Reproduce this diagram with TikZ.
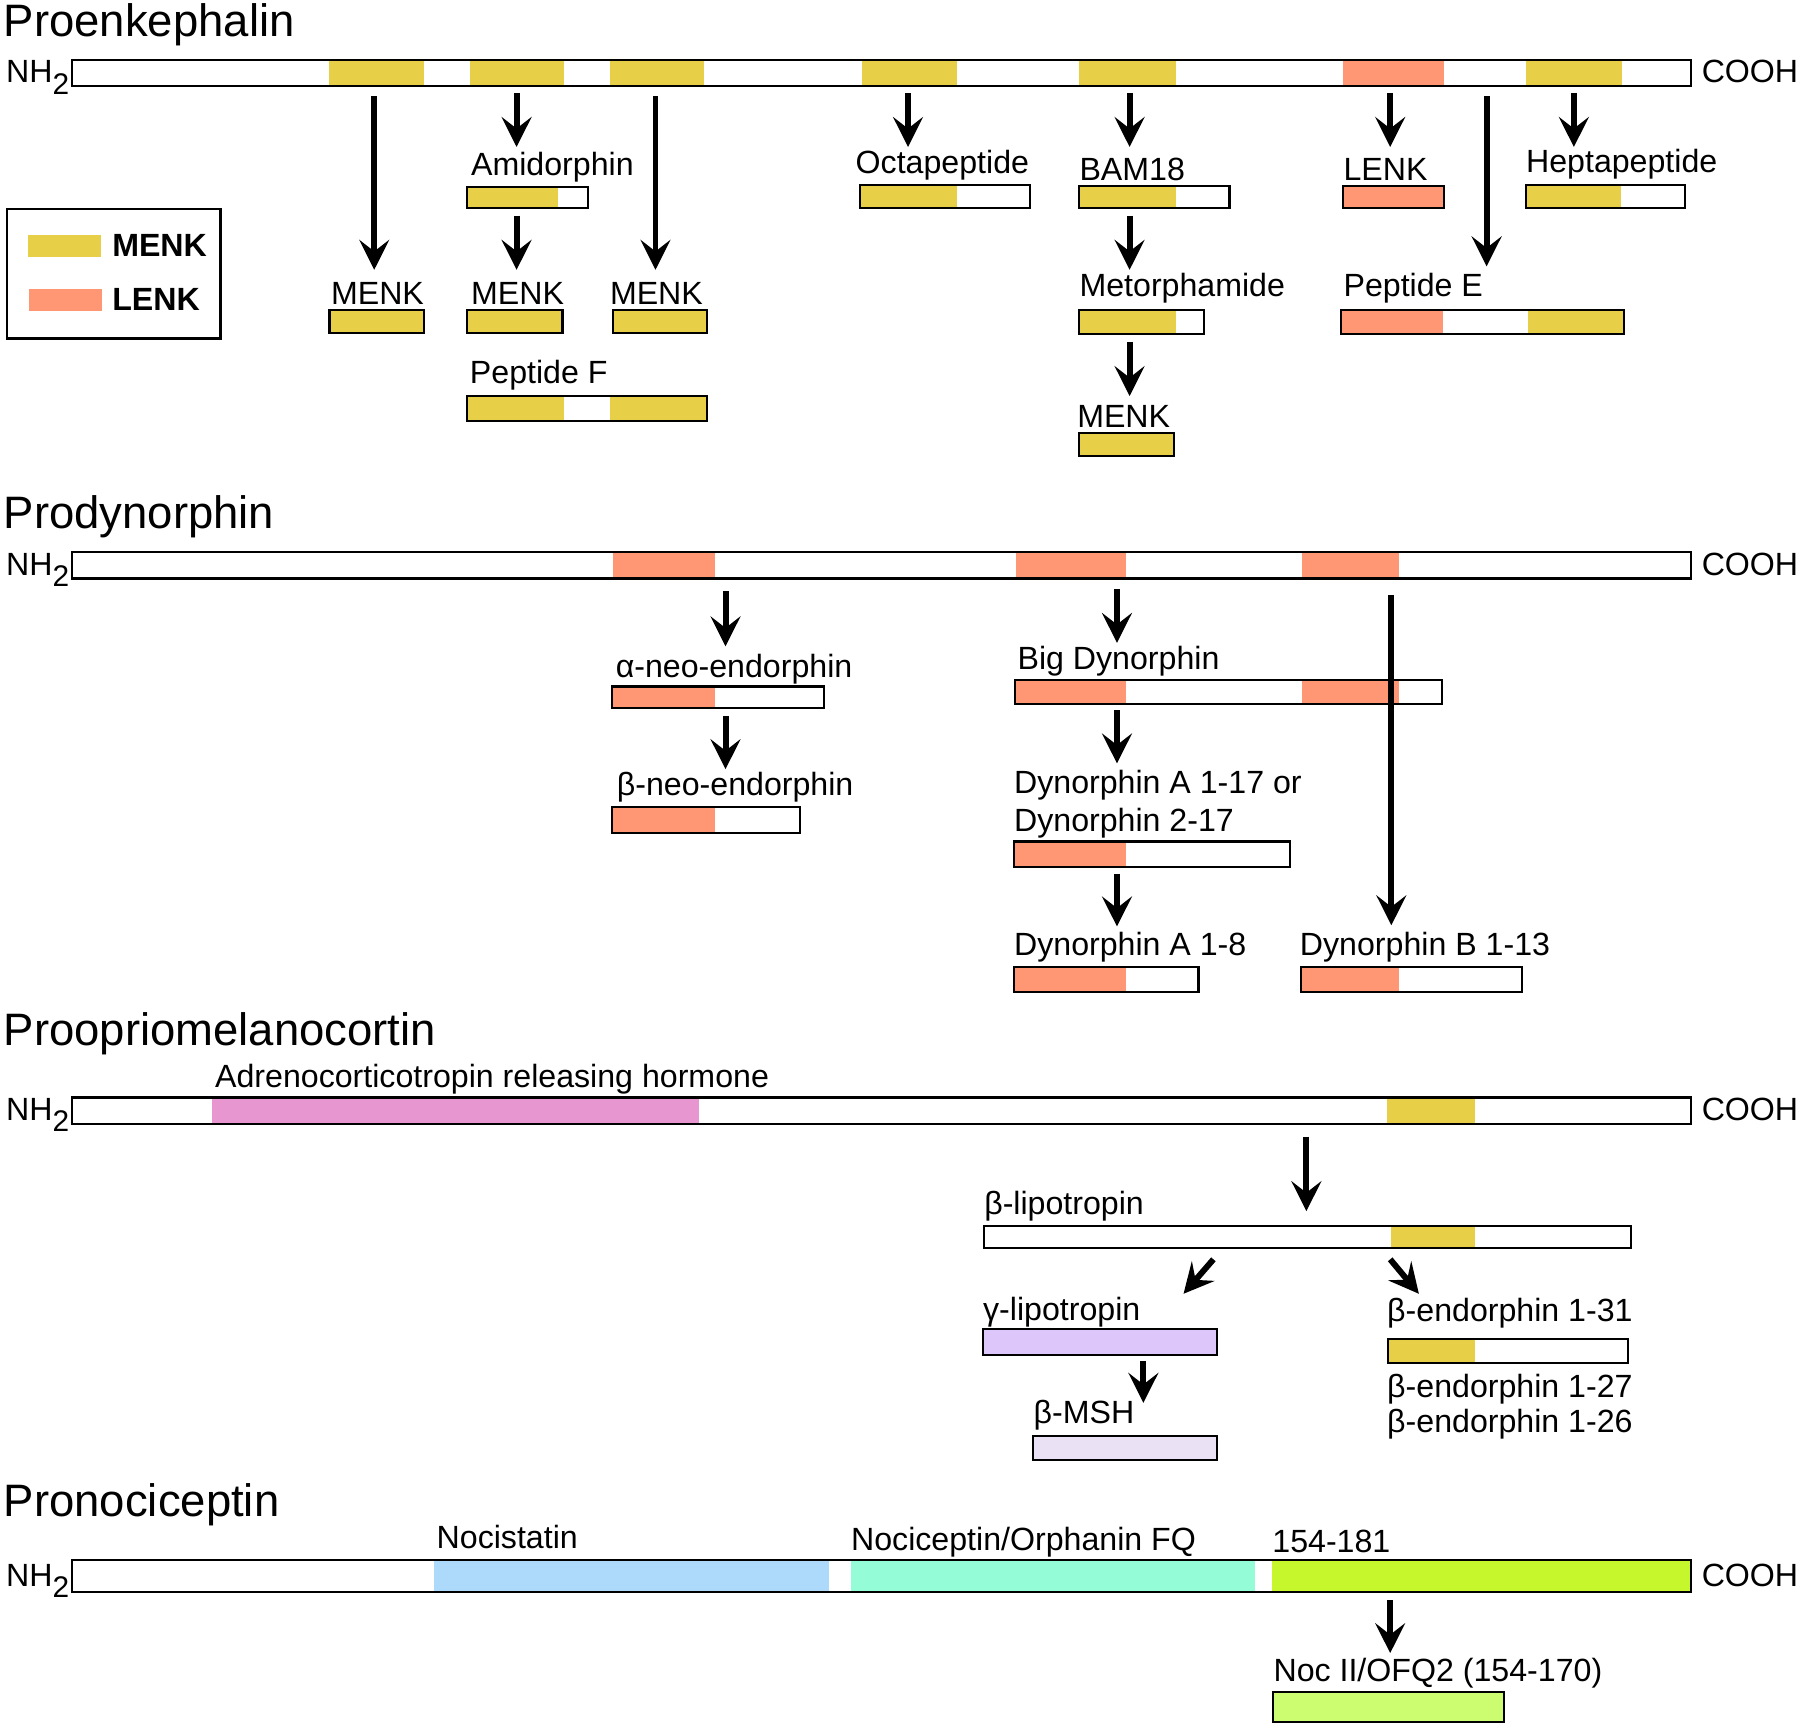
\documentclass[tikz,border=0pt]{standalone}
\usepackage{fontspec}
\setmainfont{Liberation Sans}
\usetikzlibrary{arrows.meta, calc, fit, positioning}

\definecolor{menk}{HTML}{E8CF48}
\definecolor{lenk}{HTML}{FF9775}
\definecolor{acth}{HTML}{E896D0}
\definecolor{glph}{HTML}{DCC6FA}
\definecolor{bmsh}{HTML}{EAE2F4}
\definecolor{nocst}{HTML}{ADDAFA}
\definecolor{nocfq}{HTML}{94FCD6}
\definecolor{nlime}{HTML}{C6F72D}
\definecolor{nlite}{HTML}{CCFC70}

\newcommand{\subtwo}{\raisebox{-5pt}{\fontsize{13}{13}\selectfont 2}}

\tikzset{
    bar/.style={draw, line width=1pt, inner sep=0pt},
    pep/.style={draw, line width=0.9pt, inner sep=0pt},
    lab/.style={anchor=base west, inner sep=0pt, font=\fontsize{14}{16}\selectfont},
    hdr/.style={anchor=base west, inner sep=0pt, font=\fontsize{19.8}{22}\selectfont},
    swatch/.style={minimum width=32pt, minimum height=9.5pt, inner sep=0pt},
    legtxt/.style={anchor=west, inner sep=0pt, font=\fontsize{14}{16}\selectfont\bfseries},
    cleave/.style={line width=2.6pt, -{Stealth[length=13pt, width=13pt, inset=5pt]}}
}

\begin{document}
\begin{tikzpicture}[x=0.5pt, y=-0.5pt]
    \useasboundingbox (0,0) rectangle (1568,1506);

    % Proenkephalin
    \node[hdr] (t-penk) at (3,32) {Proenkephalin};
    \fill[menk] (287,52) rectangle (369,75);
    \fill[menk] (409,52) rectangle (491,75);
    \fill[menk] (531,52) rectangle (613,75);
    \fill[menk] (751,52) rectangle (834,75);
    \fill[menk] (940,52) rectangle (1024,75);
    \fill[lenk] (1170,52) rectangle (1258,75);
    \fill[menk] (1329,52) rectangle (1413,75);
    \node[bar, fit={(63,52) (1473,75)}] (penk) {};
    \node[lab] (penk-n) at (5,72) {NH\subtwo};
    \node[lab] (penk-c) at (1482,72) {COOH};

    % legend
    \node[draw, line width=1.1pt, fit={(6,182) (192,295)}, inner sep=0pt] (legend) {};
    \node[swatch, fill=menk] (sw-menk) at (56,214) {};
    \node[legtxt, right=4.5pt of sw-menk] (lg-menk) {MENK};
    \node[swatch, fill=lenk] (sw-lenk) at (57,261) {};
    \node[legtxt, right=4pt of sw-lenk] (lg-lenk) {LENK};

    % products
    \fill[menk] (287,270) rectangle (369,290);
    \node[pep, fit={(287,270) (369,290)}] (menk1) {};
    \node[lab] (l-menk1) at (288,265) {MENK};

    \fill[menk] (407,163) rectangle (486,181);
    \node[pep, fit={(407,163) (512,181)}] (amid) {};
    \node[lab] (l-amid) at (410,153) {Amidorphin};

    \fill[menk] (407,270) rectangle (490,290);
    \node[pep, fit={(407,270) (490,290)}] (menk2) {};
    \node[lab] (l-menk2) at (410,265) {MENK};

    \fill[menk] (534,270) rectangle (616,290);
    \node[pep, fit={(534,270) (616,290)}] (menk3) {};
    \node[lab] (l-menk3) at (531,265) {MENK};

    \fill[menk] (407,345) rectangle (491,367);
    \fill[menk] (531,345) rectangle (616,367);
    \node[pep, fit={(407,345) (616,367)}] (peptf) {};
    \node[lab] (l-peptf) at (409,334) {Peptide F};

    \fill[menk] (749,161) rectangle (834,181);
    \node[pep, fit={(749,161) (897,181)}] (octa) {};
    \node[lab] (l-octa) at (745,151) {Octapeptide};

    \fill[menk] (940,162) rectangle (1024,181);
    \node[pep, fit={(940,162) (1071,181)}] (bam) {};
    \node[lab] (l-bam) at (940,157) {BAM18};

    \fill[menk] (940,270) rectangle (1024,291);
    \node[pep, fit={(940,270) (1049,291)}] (metor) {};
    \node[lab] (l-metor) at (940,258) {Metorphamide};

    \fill[menk] (940,377) rectangle (1023,397);
    \node[pep, fit={(940,377) (1023,397)}] (menk4) {};
    \node[lab] (l-menk4) at (938,372) {MENK};

    \fill[lenk] (1170,162) rectangle (1258,181);
    \node[pep, fit={(1170,162) (1258,181)}] (lenk1) {};
    \node[lab] (l-lenk1) at (1170,157) {LENK};

    \fill[lenk] (1168,270) rectangle (1257,291);
    \fill[menk] (1331,270) rectangle (1415,291);
    \node[pep, fit={(1168,270) (1415,291)}] (pepte) {};
    \node[lab] (l-pepte) at (1170,258) {Peptide E};

    \fill[menk] (1329,161) rectangle (1412,181);
    \node[pep, fit={(1329,161) (1468,181)}] (hepta) {};
    \node[lab] (l-hepta) at (1329,150) {Heptapeptide};

    % cleavage arrows
    \coordinate (k-menk1) at (326,235);
    \coordinate (k-amid)  at (450,128);
    \coordinate (k-menk2) at (450,235);
    \coordinate (k-menk3) at (571,235);
    \coordinate (k-octa)  at (791,128);
    \coordinate (k-bam)   at (984,128);
    \coordinate (k-metor) at (984,235);
    \coordinate (k-menk4) at (984,345);
    \coordinate (k-lenk1) at (1211,128);
    \coordinate (k-pepte) at (1295,232);
    \coordinate (k-hepta) at (1371,128);
    \draw[cleave] ($(penk.south -| k-menk1)+(0,8)$) -- (k-menk1);
    \draw[cleave] ($(penk.south -| k-amid)+(0,5)$) -- (k-amid);
    \draw[cleave] ($(amid.south -| k-menk2)+(0,6)$) -- (k-menk2);
    \draw[cleave] ($(penk.south -| k-menk3)+(0,8)$) -- (k-menk3);
    \draw[cleave] ($(penk.south -| k-octa)+(0,5)$) -- (k-octa);
    \draw[cleave] ($(penk.south -| k-bam)+(0,5)$) -- (k-bam);
    \draw[cleave] ($(bam.south -| k-metor)+(0,6)$) -- (k-metor);
    \draw[cleave] ($(metor.south -| k-menk4)+(0,6)$) -- (k-menk4);
    \draw[cleave] ($(penk.south -| k-lenk1)+(0,5)$) -- (k-lenk1);
    \draw[cleave] ($(penk.south -| k-pepte)+(0,8)$) -- (k-pepte);
    \draw[cleave] ($(penk.south -| k-hepta)+(0,5)$) -- (k-hepta);

    % Prodynorphin
    \node[hdr] (t-pdyn) at (3,460) {Prodynorphin};
    \fill[lenk] (534,481) rectangle (623,504);
    \fill[lenk] (885,481) rectangle (981,504);
    \fill[lenk] (1134,481) rectangle (1219,504);
    \node[bar, fit={(63,481) (1473,504)}] (pdyn) {};
    \node[lab] (pdyn-n) at (5,501) {NH\subtwo};
    \node[lab] (pdyn-c) at (1482,501) {COOH};

    \fill[lenk] (533,598) rectangle (623,617);
    \node[pep, fit={(533,598) (718,617)}] (aneo) {};
    \node[lab] (l-aneo) at (536,590) {α-neo-endorphin};

    \fill[lenk] (533,703) rectangle (623,726);
    \node[pep, fit={(533,703) (697,726)}] (bneo) {};
    \node[lab] (l-bneo) at (537,693) {β-neo-endorphin};

    \fill[lenk] (884,592) rectangle (981,613);
    \fill[lenk] (1134,592) rectangle (1219,613);
    \node[pep, fit={(884,592) (1256,613)}] (bigdyn) {};
    \node[lab] (l-bigdyn) at (886,583) {Big Dynorphin};

    \fill[lenk] (883,733) rectangle (981,755);
    \node[pep, fit={(883,733) (1124,755)}] (dyna17) {};
    \node[lab] (l-dyna17) at (883,691) {Dynorphin A 1-17 or};
    \node[lab] (l-dyn217) at (883,724) {Dynorphin 2-17};

    \fill[lenk] (883,842) rectangle (981,864);
    \node[pep, fit={(883,842) (1044,864)}] (dyna8) {};
    \node[lab] (l-dyna8) at (883,832) {Dynorphin A 1-8};

    \fill[lenk] (1133,842) rectangle (1219,864);
    \node[pep, fit={(1133,842) (1326,864)}] (dynb) {};
    \node[lab] (l-dynb) at (1132,832) {Dynorphin B 1-13};

    \coordinate (k-aneo)   at (632,563);
    \coordinate (k-bneo)   at (632,670);
    \coordinate (k-bigdyn) at (973,560);
    \coordinate (k-dyna17) at (973,665);
    \coordinate (k-dyna8)  at (973,807);
    \coordinate (k-dynb)   at (1212,806);
    \draw[cleave] ($(pdyn.south -| k-aneo)+(0,10)$) -- (k-aneo);
    \draw[cleave] ($(aneo.south -| k-bneo)+(0,6)$) -- (k-bneo);
    \draw[cleave] ($(pdyn.south -| k-bigdyn)+(0,8)$) -- (k-bigdyn);
    \draw[cleave] ($(bigdyn.south -| k-dyna17)+(0,5)$) -- (k-dyna17);
    \draw[cleave] ($(dyna17.south -| k-dyna8)+(0,5)$) -- (k-dyna8);
    \draw[cleave] ($(pdyn.south -| k-dynb)+(0,13)$) -- (k-dynb);

    % Proopriomelanocortin
    \node[hdr] (t-pomc) at (3,911) {Proopriomelanocortin};
    \node[lab] (l-acth) at (187,947) {Adrenocorticotropin releasing hormone};
    \fill[acth] (185,956) rectangle (609,979);
    \fill[menk] (1208,956) rectangle (1285,979);
    \node[bar, fit={(63,956) (1473,979)}] (pomc) {};
    \node[lab] (pomc-n) at (5,976) {NH\subtwo};
    \node[lab] (pomc-c) at (1482,976) {COOH};

    \fill[menk] (1212,1068) rectangle (1285,1087);
    \node[pep, fit={(857,1068) (1421,1087)}] (blph) {};
    \node[lab] (l-blph) at (857,1058) {β-lipotropin};

    \fill[glph] (856,1158) rectangle (1060,1180);
    \node[pep, fit={(856,1158) (1060,1180)}] (glph) {};
    \node[lab] (l-glph) at (856,1150) {γ-lipotropin};

    \fill[bmsh] (900,1251) rectangle (1060,1272);
    \node[pep, fit={(900,1251) (1060,1272)}] (msh) {};
    \node[lab] (l-msh) at (900,1240) {β-MSH};

    \fill[menk] (1209,1166) rectangle (1285,1187);
    \node[pep, fit={(1209,1166) (1418,1187)}] (bend) {};
    \node[lab] (l-bend31) at (1208,1151) {β-endorphin 1-31};
    \node[lab] (l-bend27) at (1208,1217) {β-endorphin 1-27};
    \node[lab] (l-bend26) at (1208,1248) {β-endorphin 1-26};

    \coordinate (k-blph)  at (1138,1055);
    \coordinate (s-glph)  at (1057,1097);
    \coordinate (k-glph)  at (1031,1127);
    \coordinate (s-bend)  at (1211,1097);
    \coordinate (k-bend)  at (1236,1127);
    \coordinate (k-msh)   at (996,1222);
    \draw[cleave] ($(pomc.south -| k-blph)+(0,10)$) -- (k-blph);
    \draw[cleave] (s-glph) -- (k-glph);
    \draw[cleave] (s-bend) -- (k-bend);
    \draw[cleave] ($(glph.south -| k-msh)+(0,5)$) -- (k-msh);

    % Pronociceptin
    \node[hdr] (t-pnoc) at (3,1321) {Pronociceptin};
    \node[lab] (l-nocst) at (380,1349) {Nocistatin};
    \node[lab] (l-nocfq) at (741,1351) {Nociceptin/Orphanin FQ};
    \node[lab] (l-n154) at (1108,1352) {154-181};
    \fill[nocst] (378,1359) rectangle (722,1387);
    \fill[nocfq] (741,1359) rectangle (1093,1387);
    \fill[nlime] (1108,1359) rectangle (1473,1387);
    \node[bar, fit={(63,1359) (1473,1387)}] (pnoc) {};
    \node[lab] (pnoc-n) at (5,1382) {NH\subtwo};
    \node[lab] (pnoc-c) at (1482,1382) {COOH};

    \fill[nlite] (1109,1474) rectangle (1310,1500);
    \node[pep, fit={(1109,1474) (1310,1500)}] (noc2) {};
    \node[lab] (l-noc2) at (1109,1465) {Noc II/OFQ2 (154-170)};

    \coordinate (k-noc2) at (1211,1440);
    \draw[cleave] ($(pnoc.south -| k-noc2)+(0,6)$) -- (k-noc2);
\end{tikzpicture}
\end{document}
